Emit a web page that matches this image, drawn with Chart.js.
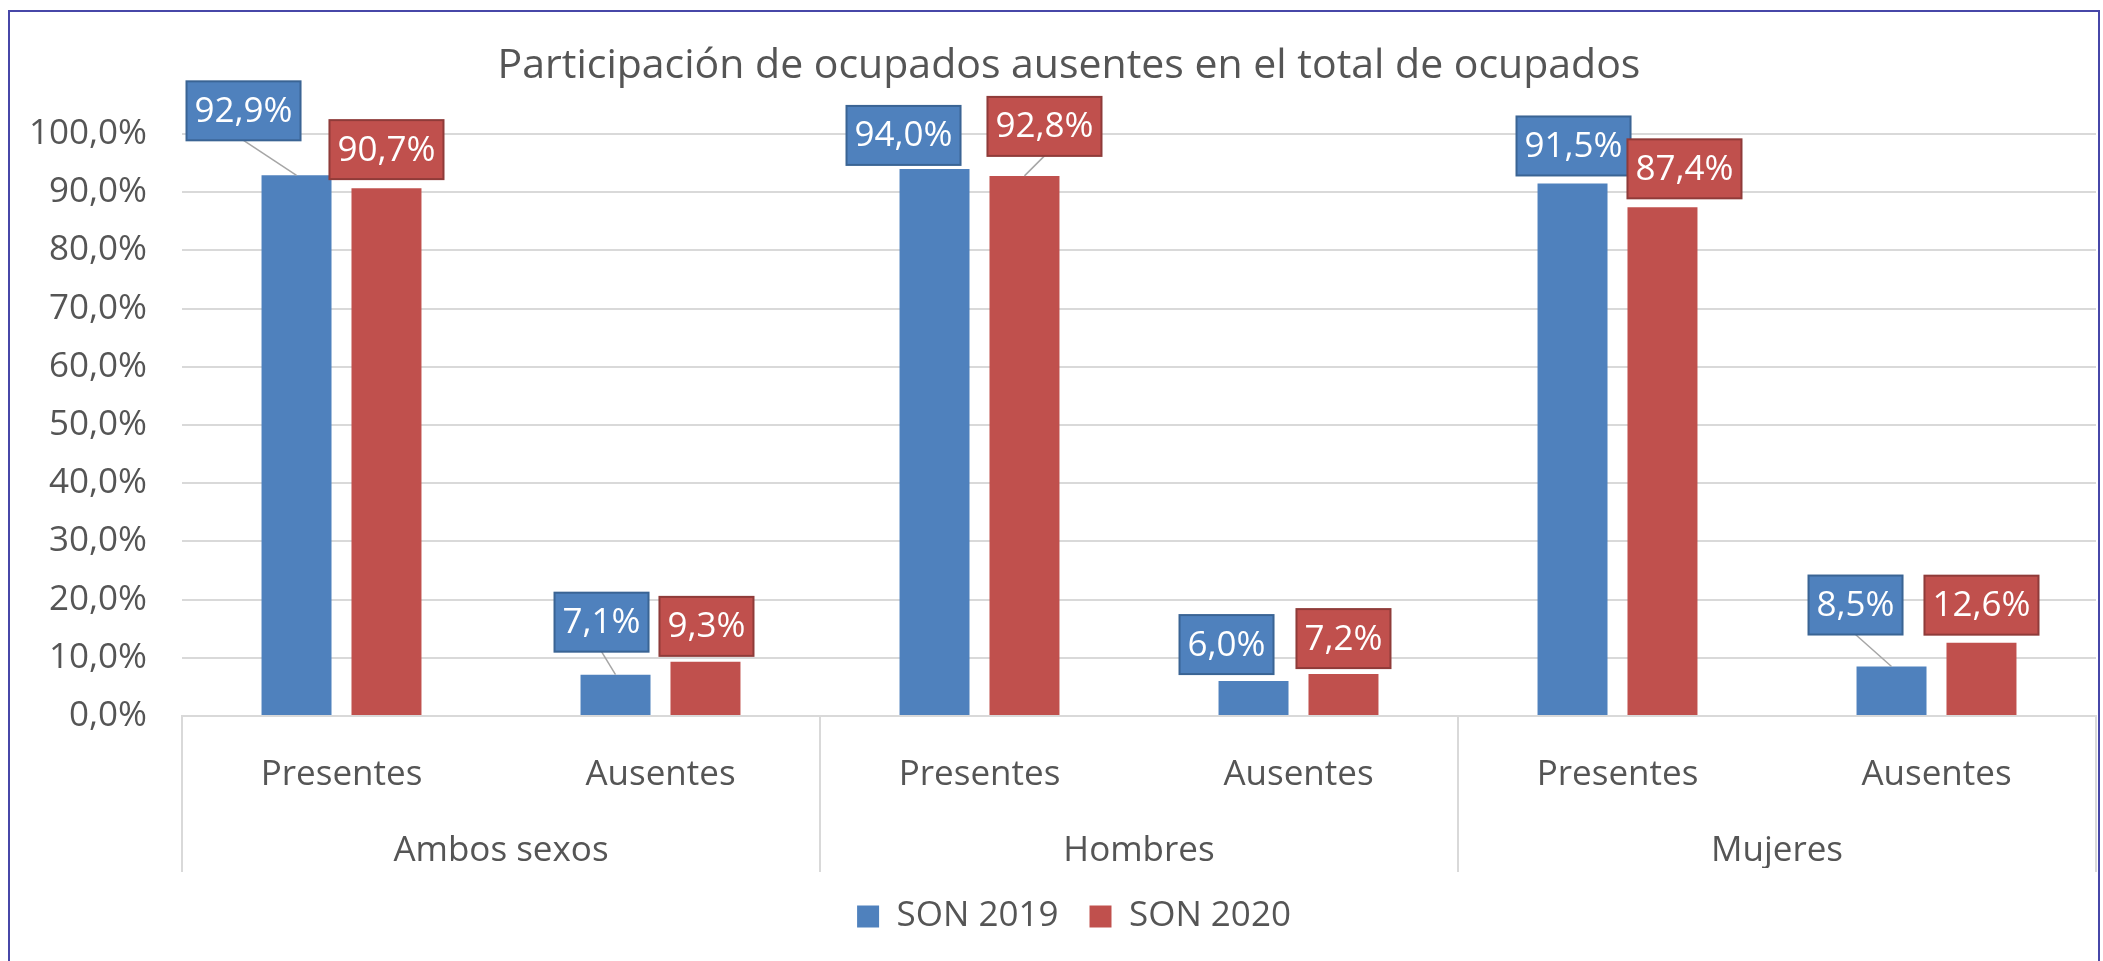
<!DOCTYPE html>
<html><head><meta charset="utf-8">
<script src="https://cdn.jsdelivr.net/npm/chart.js@4"></script>
<style>
html,body{margin:0;padding:0;background:#fff;overflow:hidden}
#wrap{position:absolute;left:0;top:0;width:2103px;height:961px}
#frame{position:absolute;left:8px;top:10px;width:2092px;height:990px;border:2.5px solid #4747a8;box-sizing:border-box;pointer-events:none}
canvas{position:absolute;left:0;top:0}
</style></head><body>
<div id="wrap"><canvas id="c" width="2103" height="961"></canvas><div id="frame"></div></div>
<script>
const chartTitle = 'Participación de ocupados ausentes en el total de ocupados';
const groups = ['Ambos sexos', 'Hombres', 'Mujeres'];
const categories = ['Presentes', 'Ausentes', 'Presentes', 'Ausentes', 'Presentes', 'Ausentes'];
const seriesNames = ['SON 2019', 'SON 2020'];
const son2019 = [92.9, 7.1, 94.0, 6.0, 91.5, 8.5];
const son2020 = [90.7, 9.3, 92.8, 7.2, 87.4, 12.6];

const FONT = '"Open Sans", "Noto Sans", sans-serif';
const TXT = '#555555';
const fmt = v => v.toFixed(1).replace('.', ',') + '%';

// label box placement (dx from bar centre, gap above bar top), in px
const labelPlacement = [
  [[-53, 35], [-14, 23], [-31, 4], [-27, 7], [1, 8], [-36, 32]],
  [[0, 9], [1, 6], [20, 20], [0, 6], [22, 9], [0, 8]]
];
const labelBorders = ['#3a6494', '#8f3b39'];

const titlePlugin = {
  id: 'ownTitle',
  afterDraw(chart) {
    const ctx = chart.ctx;
    ctx.save();
    ctx.font = '41px ' + FONT;
    ctx.fillStyle = TXT;
    ctx.textAlign = 'center';
    ctx.textBaseline = 'alphabetic';
    ctx.fillText(chartTitle, 1069, 78);
    ctx.restore();
  }
};

const legendShift = {
  id: 'legendShift',
  afterLayout(chart) {
    const l = chart.legend;
    if (l) { l.left += 21; l.right += 21; }
  }
};

const groupLines = {
  id: 'groupLines',
  afterDraw(chart) {
    const x = chart.scales.x;
    const ctx = chart.ctx;
    const step = x.getPixelForValue(1) - x.getPixelForValue(0);
    const b = chart.chartArea.bottom;
    ctx.save();
    ctx.strokeStyle = '#d9d9d9';
    ctx.lineWidth = 2;
    const per = categories.length / groups.length;
    for (let g = 0; g <= groups.length; g++) {
      const px = g < groups.length
        ? x.getPixelForValue(g * per) - step / 2
        : x.getPixelForValue(categories.length - 1) + step / 2;
      ctx.beginPath();
      ctx.moveTo(px, b);
      ctx.lineTo(px, b + 156);
      ctx.stroke();
    }
    ctx.restore();
  }
};

const boxLabels = {
  id: 'boxLabels',
  afterDatasetsDraw(chart) {
    const ctx = chart.ctx;
    ctx.save();
    ctx.font = '35px ' + FONT;
    chart.data.datasets.forEach((ds, di) => {
      const meta = chart.getDatasetMeta(di);
      meta.data.forEach((bar, i) => {
        const pl = labelPlacement[di][i];
        const text = fmt(ds.data[i]);
        const w = ctx.measureText(text).width + 16;
        const h = 59;
        const cx = bar.x + pl[0];
        const bottom = bar.y - pl[1];
        const top = bottom - h;
        if (pl[1] > 15) {
          ctx.strokeStyle = '#a6a6a6';
          ctx.lineWidth = 1.5;
          ctx.beginPath();
          ctx.moveTo(cx, bottom);
          ctx.lineTo(bar.x, bar.y);
          ctx.stroke();
        }
        ctx.fillStyle = ds.backgroundColor;
        ctx.fillRect(cx - w / 2, top, w, h);
        ctx.strokeStyle = labelBorders[di];
        ctx.lineWidth = 2;
        ctx.strokeRect(cx - w / 2, top, w, h);
        ctx.fillStyle = '#ffffff';
        ctx.textAlign = 'center';
        ctx.textBaseline = 'middle';
        ctx.fillText(text, cx, top + h / 2 + 1);
      });
    });
    ctx.restore();
  }
};

new Chart(document.getElementById('c'), {
  type: 'bar',
  data: {
    labels: categories,
    datasets: [
      { label: seriesNames[0], data: son2019, backgroundColor: '#4F81BD' },
      { label: seriesNames[1], data: son2020, backgroundColor: '#C0504D' }
    ]
  },
  options: {
    responsive: false,
    animation: false,
    layout: { padding: { left: 10, right: 7, top: 134, bottom: 17 } },
    datasets: { bar: { categoryPercentage: 0.564, barPercentage: 0.778 } },
    plugins: {
      title: { display: false },
      tooltip: { enabled: false },
      legend: {
        position: 'bottom',
        labels: {
          boxWidth: 22, boxHeight: 22, padding: 31, color: TXT,
          font: { family: FONT, size: 35 }
        }
      }
    },
    scales: {
      x: {
        grid: { display: false },
        border: { display: true, color: '#d9d9d9', width: 2 },
        ticks: { color: TXT, font: { family: FONT, size: 35 }, padding: 30, maxRotation: 0 },
        afterFit(s) { s.height = 77; }
      },
      x2: {
        type: 'category',
        labels: groups,
        position: 'bottom',
        offset: true,
        grid: { display: false },
        border: { display: false },
        ticks: { color: TXT, font: { family: FONT, size: 35 }, padding: 29, maxRotation: 0 },
        afterFit(s) { s.height = 75; }
      },
      y: {
        min: 0, max: 100,
        ticks: { stepSize: 10, padding: 35, color: TXT, font: { family: FONT, size: 35 }, callback: v => fmt(v) },
        grid: { color: '#d9d9d9', lineWidth: 2, drawTicks: false },
        border: { display: false },
        afterFit(s) { s.width = 172; }
      }
    }
  },
  plugins: [titlePlugin, legendShift, groupLines, boxLabels]
});
</script>
</body></html>
